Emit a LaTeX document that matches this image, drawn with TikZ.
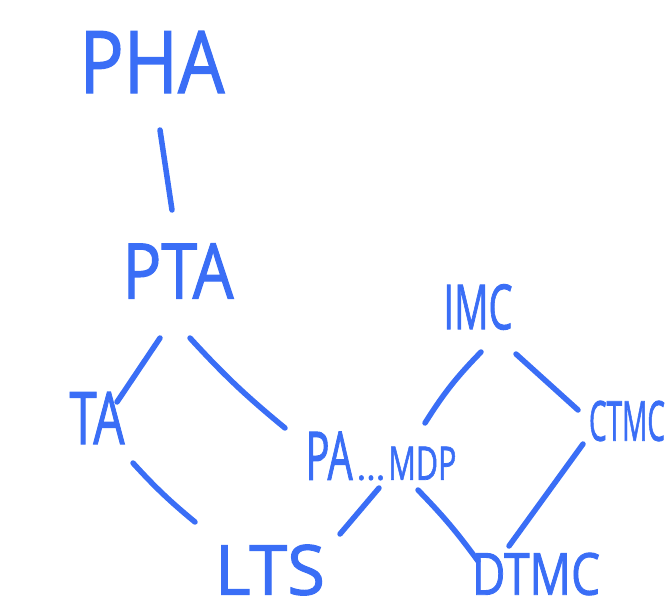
\documentclass[tikz,border=0pt]{standalone}
\usepackage{fontspec}
\usepackage{graphicx}
\setmainfont{Open Sans}[AutoFakeBold=1.6]
\definecolor{ink}{RGB}{58,110,246}
\begin{document}
\begin{tikzpicture}[x=1pt,y=-1pt,
  lbl/.style={inner sep=0pt,outer sep=0pt,text=ink,font=\fontsize{40}{40}\selectfont\bfseries},
  link/.style={draw=ink,line width=5.5pt,line cap=round}]
\useasboundingbox (0,0) rectangle (668,610);

% labels, each stretched to its box size
\node[lbl] (pha)  at (152,62)  {\resizebox{145pt}{62pt}{PHA}};
\node[lbl] (pta)  at (178,271) {\resizebox{111pt}{55pt}{PTA}};
\node[lbl] (ta)   at (97,418)  {\resizebox{55pt}{52pt}{TA}};
\node[lbl] (pa)   at (381,456) {\resizebox{47pt}{48pt}{PA}\hspace{4pt}{\fontsize{36}{36}\selectfont...}\hspace{3pt}\resizebox{68pt}{33pt}{MDP}};
\node[lbl] (imc)  at (478,307) {\resizebox{69pt}{45pt}{IMC}};
\node[lbl,anchor=west] (ctmc) at (589,421) {\resizebox{76pt}{40pt}{CTMC}};
\node[lbl] (lts)  at (270,570) {\resizebox{110pt}{50pt}{LTS}};
\node[lbl] (dtmc) at (536,574) {\resizebox{128pt}{42pt}{DTMC}};

% connectors
\draw[link] ([shift={(8,68)}]pha.center) -- ([shift={(-6,-61)}]pta.center);
\draw[link] ([shift={(-18,67)}]pta.center) -- ([shift={(20,-16)}]ta.center);
\draw[link] ([shift={(12,67)}]pta.center) to[bend right=4] ([shift={(-96,-28)}]pa.center);
\draw[link] ([shift={(36,45)}]ta.center) to[bend right=4] ([shift={(-75,-48)}]lts.center);
\draw[link] ([shift={(-2,32)}]pa.center) -- ([shift={(70,-36)}]lts.center);
\draw[link] ([shift={(37,34)}]pa.center) to[bend left=4] ([shift={(-58,-13)}]dtmc.center);
\draw[link] ([shift={(44,-33)}]pa.center) to[bend left=6] ([shift={(3,45)}]imc.center);
\draw[link] ([shift={(38,47)}]imc.center) -- ([shift={(-11,-11)}]ctmc.west);
\draw[link] ([shift={(-6,23)}]ctmc.west) -- ([shift={(-27,-28)}]dtmc.center);
\end{tikzpicture}
\end{document}
